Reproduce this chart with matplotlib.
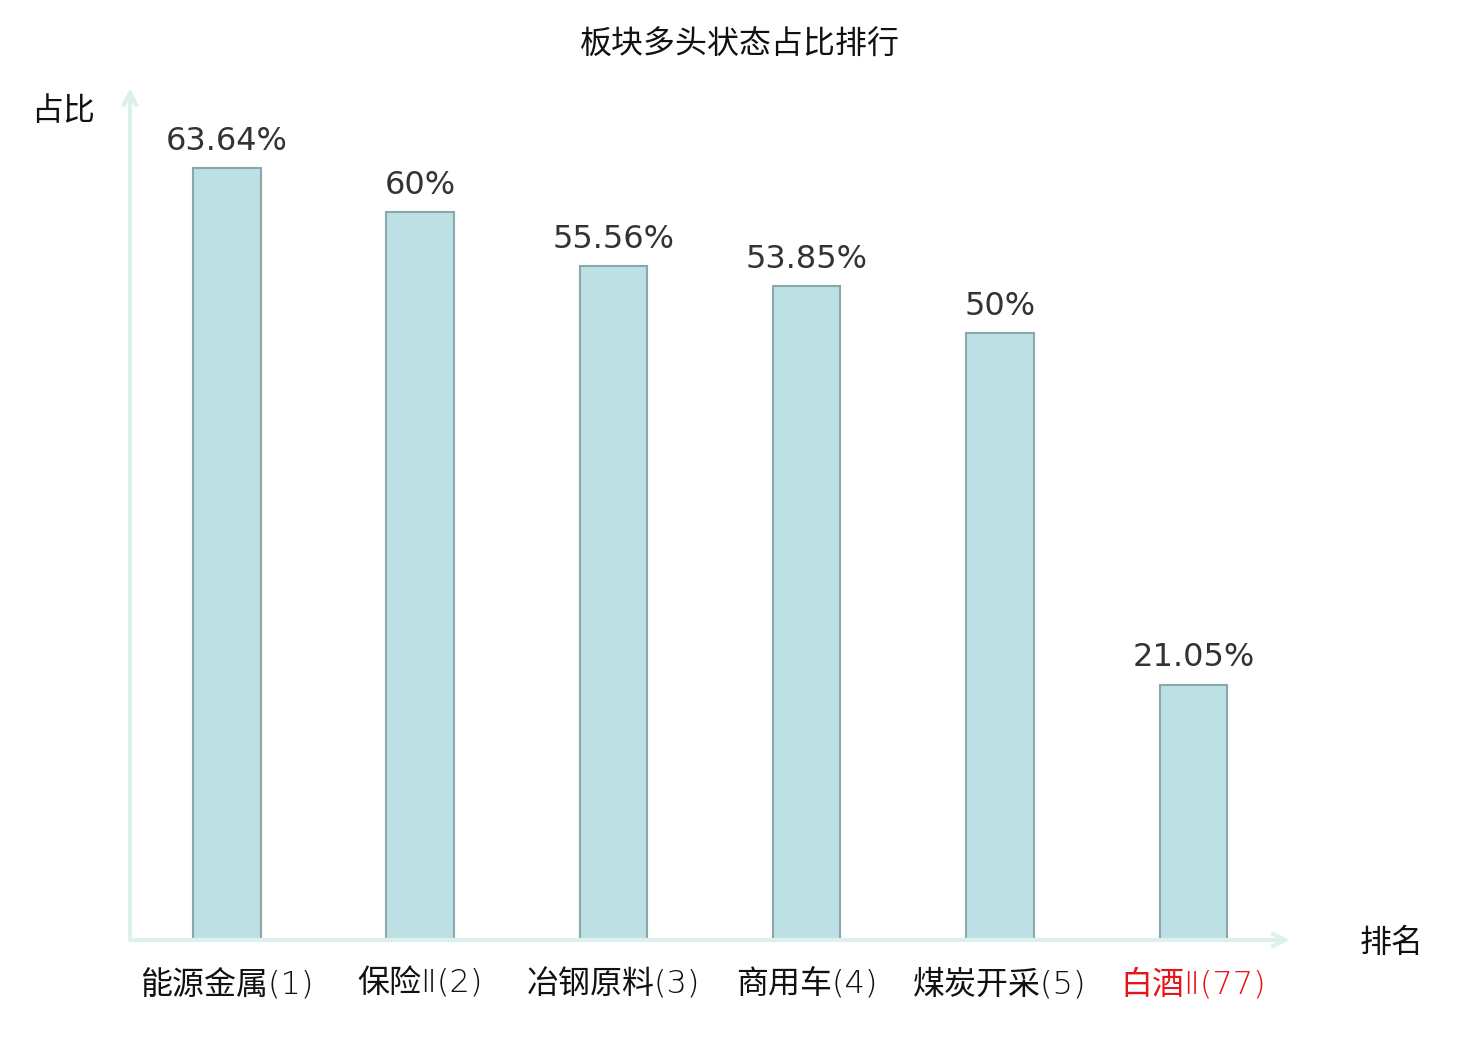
import matplotlib
matplotlib.use('Agg')
import matplotlib.pyplot as plt
import numpy as np

plt.rcParams['font.family'] = ['Noto Sans CJK SC', 'DejaVu Sans']

sectors = ['能源金属(1)', '保险Ⅱ(2)', '冶钢原料(3)', '商用车(4)', '煤炭开采(5)', '白酒Ⅱ(77)']
shares = [63.64, 60.0, 55.56, 53.85, 50.0, 21.05]
share_labels = ['63.64%', '60%', '55.56%', '53.85%', '50%', '21.05%']
highlight = '白酒Ⅱ(77)'

AXIS_COLOR = '#dcf1ee'
BAR_FACE = '#bce0e3'
BAR_EDGE = '#8aa8a8'

fig = plt.figure(figsize=(14.8, 10.4), dpi=100)
ax = fig.add_axes([130 / 1480, 1 - 940 / 1040, 1160 / 1480, 852 / 1040])

x = np.arange(len(sectors))
ax.bar(x, shares, width=0.35, color=BAR_FACE, edgecolor=BAR_EDGE, linewidth=1.5, zorder=3)
for xi, v, lbl in zip(x, shares, share_labels):
    ax.annotate(lbl, (xi, v), xytext=(0, 8), textcoords='offset points',
                ha='center', va='bottom', fontsize=23, color='#333333',
                family='DejaVu Sans')

ax.set_xlim(-0.5, 5.5)
ax.set_ylim(0, 70.2)
for s in ax.spines.values():
    s.set_visible(False)
ax.set_yticks([])
ax.set_xticks(x)
# latin part in a light DejaVu, CJK falls through to Noto
ax.set_xticklabels(sectors, fontsize=23, family=['DejaVu Sans', 'Noto Sans CJK SC'],
                   weight='light')
ax.tick_params(axis='x', length=0, pad=20)
for t in ax.get_xticklabels():
    t.set_color('#e8141b' if t.get_text() == highlight else '#111111')

# axis arrows
arrow = dict(arrowstyle='->,head_length=0.9,head_width=0.45', color=AXIS_COLOR, lw=3,
             shrinkA=0, shrinkB=0)
ax.annotate('', xy=(1, 0), xytext=(0, 0), xycoords='axes fraction', arrowprops=arrow,
            annotation_clip=False)
ax.annotate('', xy=(0, 1), xytext=(0, 0), xycoords='axes fraction', arrowprops=arrow,
            annotation_clip=False)

fig.text(63 / 1480, 1 - 111 / 1040, '占比', fontsize=23, ha='center', va='center', color='#111111')
fig.text(1392 / 1480, 1 - 943 / 1040, '排名', fontsize=23, ha='center', va='center', color='#111111')
fig.text(0.5, 1 - 45 / 1040, '板块多头状态占比排行', fontsize=23, ha='center', va='center', color='#111111')

fig.savefig('out.png', dpi=100)
